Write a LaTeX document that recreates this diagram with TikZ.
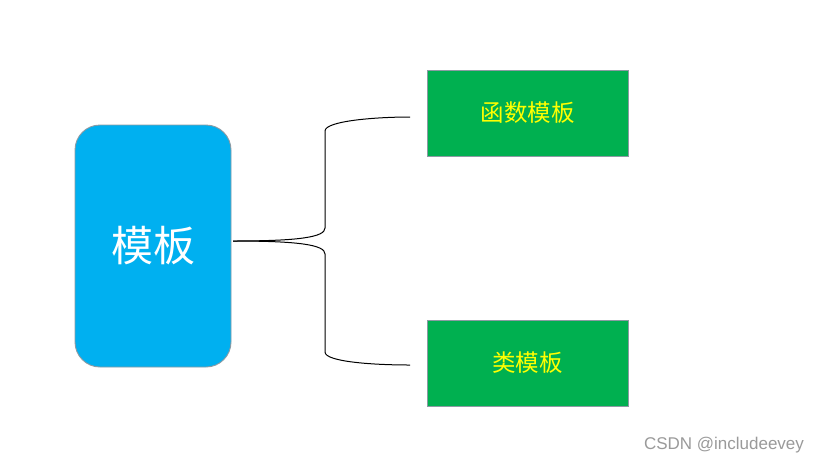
\documentclass[tikz,border=0pt]{standalone}
\usepackage{fontspec}
\setmainfont{Liberation Sans}
\newfontfamily\cjk{Noto Sans CJK SC}
\definecolor{boxblue}{HTML}{00B0F0}
\definecolor{boxgreen}{HTML}{00B050}
\definecolor{edgegray}{HTML}{8C9AA3}
\definecolor{txtyellow}{HTML}{FFFF00}
\definecolor{wmgray}{HTML}{9A9A9A}
\tikzset{
  bluebox/.style={draw=edgegray, line width=0.9pt, fill=boxblue, rounded corners=25pt,
    minimum width=156pt, minimum height=242pt, inner sep=0pt, text=white,
    font=\cjk\fontsize{42}{46}\selectfont},
  greenbox/.style={draw=edgegray, line width=0.9pt, fill=boxgreen,
    minimum width=201pt, minimum height=86pt, inner sep=0pt, text=txtyellow,
    font=\cjk\fontsize{23.5}{27}\selectfont},
  bracket/.style={draw=black, line width=1pt},
  wm/.style={text=wmgray, font=\fontsize{17}{20}\selectfont, inner sep=0pt}
}
\begin{document}
\begin{tikzpicture}[x=1pt,y=-1pt]
\useasboundingbox (0,0) rectangle (821,464);
\fill[white] (0,0) rectangle (821,464);
\node[bluebox] (main) at (153,246) {模板};
\node[greenbox] (func) at (527.5,113) {函数模板};
\node[greenbox] (cls) at (527.5,363) {类模板};
\coordinate (root) at (233,241);
\coordinate (topend) at (410,117);
\coordinate (botend) at (410,365);
\draw[bracket] (root) .. controls (300,241) and (325,237) .. (325,228)
  -- (325,131) .. controls (325,121) and (375,117) .. (topend);
\draw[bracket] (root) .. controls (300,241) and (325,245) .. (325,254)
  -- (325,352) .. controls (325,362) and (375,365) .. (botend);
\node[wm] (mark) at (724,445) {CSDN @includeevey};
\end{tikzpicture}
\end{document}
